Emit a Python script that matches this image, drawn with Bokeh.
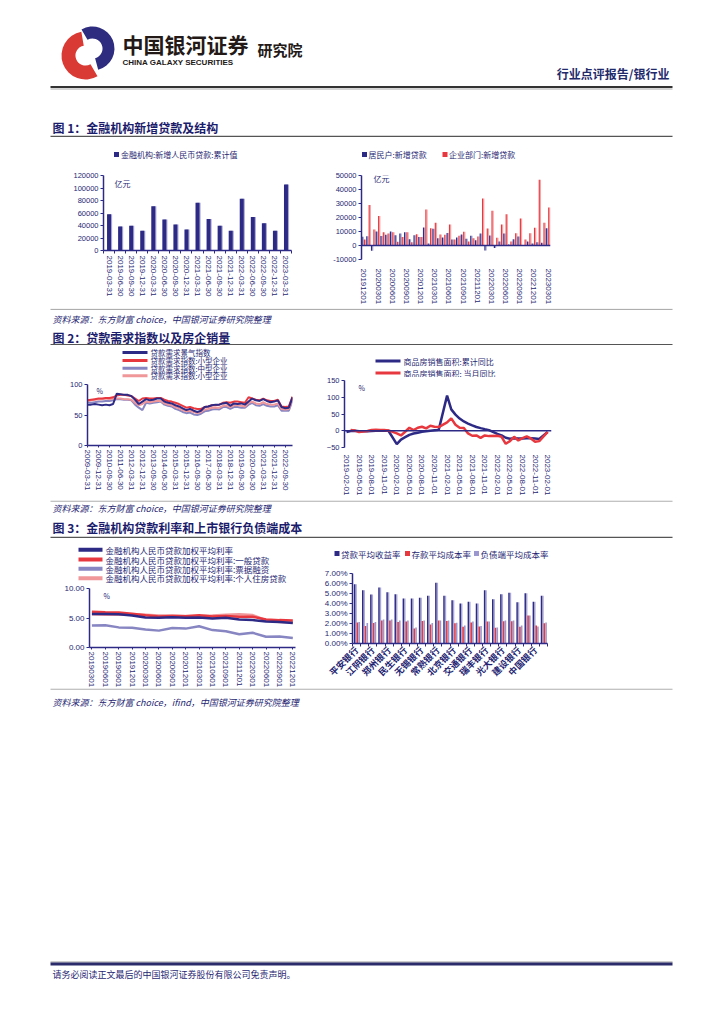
import math
from bokeh.plotting import figure
from bokeh.layouts import column, row
from bokeh.models import (Range1d, Span, FixedTicker, Label, NumeralTickFormatter, PrintfTickFormatter)
from bokeh.core.properties import value
from bokeh.embed import file_html
from bokeh.resources import INLINE

# ---------------- data ----------------
# Fig 1 left: new RMB loans (100m yuan)
loan_q_labels = ["2019-03-31", "2019-06-30", "2019-09-30", "2019-12-31", "2020-03-31", "2020-06-30",
                 "2020-09-30", "2020-12-31", "2021-03-31", "2021-06-30", "2021-09-30", "2021-12-31",
                 "2022-03-31", "2022-06-30", "2022-09-30", "2022-12-31", "2023-03-31"]
loan_q_values = [58000, 38500, 39500, 31500, 71000, 49500, 41500, 33500, 76500, 50500, 39500, 31500,
                 83000, 53500, 43500, 31500, 105500]

# Fig 1 right: monthly new loans 2019-12 .. 2023-03
month_tick_labels = ["20191201", "20200301", "20200601", "20200901", "20201201", "20210301", "20210601",
                     "20210901", "20211201", "20220301", "20220601", "20220901", "20221201", "20230301"]
household_loans = [6200, 6600, -3800, 10000, 6700, 7600, 10000, 7400, 8600, 9500, 4500, 7400, 6000, 12900,
                   1400, 11900, 5200, 5700, 9000, 4300, 5700, 7900, 4800, 6900, 3800, 8600, -3600, 7100,
                   -1700, 2900, 8600, 700, 4500, 6400, -200, 2900, 1400, 2400, 1900, 12400]
enterprise_loans = [4300, 29000, 11400, 21000, 9500, 8600, 9500, 2600, 6000, 9500, 2400, 8100, 6000, 25700,
                    12400, 16200, 7900, 7600, 15000, 4300, 6900, 9800, 2900, 5200, 6400, 33600, 12100, 24800,
                    5500, 15000, 22400, 2900, 8800, 19300, 4300, 8800, 12600, 46900, 16200, 27100]

# Fig 2 left: loan demand indices, quarterly 2009Q1 .. 2023Q1
demand_tick_labels = ["2009-03-31", "2009-12-31", "2010-09-30", "2011-06-30", "2012-03-31", "2012-12-31",
                      "2013-09-30", "2014-06-30", "2015-03-31", "2015-12-31", "2016-09-30", "2017-06-30",
                      "2018-03-31", "2018-12-31", "2019-09-30", "2020-06-30", "2021-03-31", "2021-12-31",
                      "2022-09-30"]
demand_total = [67, 67, 68, 67, 66, 67, 66, 68, 85, 84, 83, 83, 81, 75, 68, 72, 76, 74, 75, 77,
                77, 72, 70, 69, 66, 64, 61, 58, 60, 57, 55, 57, 63, 64, 66, 67, 67, 69, 70, 65,
                69, 68, 69, 67, 72, 77, 74, 73, 76, 73, 71, 72, 74, 63, 61, 62, 79]
demand_small = [74, 75, 76, 77, 77, 78, 78, 79, 82, 83, 83, 82, 81, 77, 73, 77, 78, 77, 77, 78,
                78, 75, 73, 72, 70, 68, 65, 62, 63, 61, 60, 60, 63, 64, 66, 66, 67, 70, 71, 70,
                72, 72, 71, 70, 79, 77, 75, 74, 77, 74, 73, 73, 75, 64, 63, 64, 80]
demand_medium = [71, 70, 71, 72, 72, 73, 73, 74, 76, 76, 75, 75, 74, 67, 62, 58, 70, 69, 70, 71,
                 72, 67, 65, 64, 60, 58, 55, 53, 54, 51, 50, 52, 56, 57, 59, 60, 59, 63, 63, 60,
                 63, 63, 62, 62, 67, 70, 66, 65, 68, 65, 64, 64, 66, 57, 57, 57, 74]
demand_small2 = [73, 74, 75, 76, 76, 77, 76, 77, 77, 77, 76, 76, 75, 70, 66, 68, 72, 71, 72, 73,
                 73, 69, 67, 66, 63, 61, 58, 56, 57, 55, 53, 55, 59, 60, 62, 62, 62, 65, 66, 63,
                 66, 66, 65, 64, 70, 72, 69, 68, 71, 68, 67, 67, 69, 60, 59, 60, 76]

# Fig 2 right: residential sales area YoY, monthly 2019-02 .. 2023-02 (None = no data)
sales_tick_labels = ["2019-02-01", "2019-05-01", "2019-08-01", "2019-11-01", "2020-02-01", "2020-05-01",
                     "2020-08-01", "2020-11-01", "2021-02-01", "2021-05-01", "2021-08-01", "2021-11-01",
                     "2022-02-01", "2022-05-01", "2022-08-01", "2022-11-01", "2023-02-01"]
sales_cum_yoy = [-3.6, -0.9, -0.3, -1.6, -1.8, -1.3, -0.6, -0.1, 0.1, 0.2, -0.1,
                 None, -39.9, -26.3, -19.3, -12.3, -8.4, -5.8, -3.3, -1.8, 0.0, 1.3, 2.6,
                 None, 104.9, 63.8, 48.1, 36.3, 27.7, 21.5, 15.9, 11.3, 7.9, 4.8, 1.9,
                 None, -9.6, -13.8, -20.9, -23.6, -22.2, -23.1, -23.0, -22.2, -22.3, -23.3, -24.3,
                 None, -3.6]
sales_month_yoy = [None, 2.0, 0.5, -4.0, -2.0, -1.0, 2.0, 3.0, 2.0, 2.0, 1.0,
                   None, -8.0, -14.0, -3.0, 9.0, 2.0, 9.0, 12.0, 7.0, 15.0, 12.0, 11.0,
                   None, 25.0, 37.0, 18.0, 9.0, 8.0, -8.0, -15.0, -14.0, -21.0, -14.0, -16.0,
                   None, -15.0, -18.0, -39.0, -31.0, -18.0, -29.0, -22.0, -17.0, -23.0, -33.0, -31.0,
                   None, -3.6]

# Fig 3 left: weighted average lending rates (%), quarterly
rate_tick_labels = ["20190301", "20190601", "20190901", "20191201", "20200301", "20200601", "20200901",
                    "20201201", "20210301", "20210601", "20210901", "20211201", "20220301", "20220601",
                    "20220901", "20221201"]
rate_all = [5.69, 5.66, 5.62, 5.44, 5.08, 5.06, 5.12, 5.03, 5.10, 4.93, 5.05, 4.76, 4.65, 4.41, 4.34, 4.14]
rate_general = [6.06, 5.97, 5.94, 5.74, 5.48, 5.26, 5.32, 5.31, 5.45, 5.25, 5.35, 5.20, 5.22, 4.76, 4.64, 4.57]
rate_bill = [3.74, 3.76, 3.41, 3.34, 3.05, 2.86, 3.29, 3.20, 3.61, 2.95, 2.75, 2.23, 2.49, 1.83, 1.87, 1.60]
rate_mortgage = [5.64, 5.55, 5.55, 5.62, 5.53, 5.42, 5.41, 5.34, 5.34, 5.42, 5.53, 5.63, 5.49, 4.62, 4.34, 4.26]

# Fig 3 right: listed banks (labels shown on every other bar group)
banks = ["平安银行", "张家港行", "江阴银行", "苏农银行", "郑州银行", "青岛银行", "民生银行", "渝农商行",
         "无锡银行", "紫金银行", "常熟银行", "上海银行", "北京银行", "南京银行", "交通银行", "兴业银行",
         "瑞丰银行", "沪农商行", "光大银行", "农业银行", "建设银行", "邮储银行", "中国银行", "工商银行"]
loan_yield = [5.93, 5.33, 4.90, 5.60, 5.13, 4.93, 4.50, 4.50, 4.57, 4.77, 6.07, 4.77,
              4.33, 4.00, 4.17, 4.00, 5.33, 4.43, 4.93, 5.07, 4.13, 5.03, 4.17, 4.77]
deposit_cost = [2.10, 1.75, 2.05, 2.30, 2.30, 2.15, 2.20, 1.50, 2.25, 1.90, 2.30, 2.25,
                2.03, 1.67, 2.10, 1.70, 2.20, 1.57, 2.23, 2.23, 1.67, 2.80, 1.80, 2.03]
liability_cost = [2.15, 2.05, 2.15, 2.40, 2.40, 2.30, 2.30, 1.60, 2.30, 2.05, 2.30, 2.30,
                  2.08, 1.80, 2.20, 1.75, 2.20, 1.60, 2.30, 2.30, 1.80, 2.80, 1.70, 2.10]

# ---------------- style ----------------
CJK = "Noto Sans CJK SC"
NUMF = "Liberation Sans"
NAVY = "#2D2A86"
NAVY_SH = "#A9A7D3"
RED = "#E8383F"
RED_SH = "#F4A6A8"
LAV = "#9A98CF"
GRAYLAV = "#8785C2"
PINK = "#F0979A"
TXT = "#1F1F73"
TITLE = "#1C1C6C"
PAGE_W = 716
BIG_BOTTOM = 80


def band(x0, y0, w, h):
    p = figure(width=w, height=h, x_range=Range1d(x0, x0 + w), y_range=Range1d(y0 + h, y0),
               x_axis_location=None, y_axis_location=None, min_border=0,
               output_backend="svg", toolbar_location=None)
    p.grid.visible = False
    p.outline_line_color = None
    return p


def put_text(p, x, y, s, size, color=TXT, style="normal", font=CJK, align="left"):
    p.text(x=[x], y=[y], text=[s], text_font=value(font), text_font_size=f"{size}px",
           text_font_style=style, text_color=color, text_align=align, text_baseline="middle")


def hrule(p, y, color="#666666", w=1.0, x0=50, x1=672):
    p.segment(x0=[x0], y0=[y], x1=[x1], y1=[y], line_color=color, line_width=w)


def leg_square(b, cx, cy, color, label, tx, size=8):
    b.rect(x=[cx], y=[cy], width=5, height=5, fill_color=color, line_color=None)
    put_text(b, tx, cy, label, size)


def leg_line(b, x0, x1, y, color, w, label, tx, size=8):
    b.segment(x0=[x0], y0=[y], x1=[x1], y1=[y], line_color=color, line_width=w)
    put_text(b, tx, y, label, size)


def chart(w, h, xr, yr, bl, br, bt, bb):
    """Chart whose plot frame sits exactly bl/br/bt/bb px inside a w x h box."""
    fw, fh = w - bl - br, h - bt - bb
    p = figure(frame_width=fw, frame_height=fh, x_range=xr, y_range=yr,
               output_backend="svg", toolbar_location=None,
               min_border_left=bl, min_border_right=br, min_border_top=bt, min_border_bottom=BIG_BOTTOM)
    p.margin = (0, 0, bb - BIG_BOTTOM, 0)
    p.border_fill_color = None
    p.grid.visible = False
    p.outline_line_color = None
    for ax in p.axis:
        ax.axis_line_color = NAVY
        ax.axis_line_width = 1.5
        ax.major_tick_line_color = NAVY
        ax.major_tick_in = 0
        ax.major_tick_out = 3
        ax.minor_tick_line_color = None
        ax.major_label_text_font = NUMF
        ax.major_label_text_font_size = "8px"
        ax.major_label_text_color = TXT
        ax.major_label_standoff = 2
    p.yaxis.major_label_text_font_size = "7.5px"
    return p


def boundary_ticks(p, n):
    p.xaxis.ticker = FixedTicker(ticks=p.xaxis.ticker.ticks, minor_ticks=[i - 0.5 for i in range(n + 1)])
    p.xaxis.major_tick_line_color = None
    p.xaxis.minor_tick_line_color = NAVY
    p.xaxis.minor_tick_out = 3
    p.xaxis.minor_tick_in = 0


def unit_label(p, text, x, y, size="8px"):
    p.add_layout(Label(x=x, y=y, x_units="screen", y_units="screen", text=text, text_font=CJK,
                       text_font_size=size, text_color=TXT, text_baseline="middle"))


# ---------------- header band (y 0..137) ----------------
s0 = band(0, 0, PAGE_W, 137)
s0.annular_wedge(x=[85], y=[55], inner_radius=10, outer_radius=24, start_angle=math.radians(100),
                 end_angle=math.radians(300), fill_color="#D93A33", line_color=None)
s0.annular_wedge(x=[92], y=[48], inner_radius=10, outer_radius=22, start_angle=math.radians(-75),
                 end_angle=math.radians(120), fill_color="#2E2C7E", line_color=None)
put_text(s0, 122, 43, "中国银河证券", 21, color="#231916", style="bold")
put_text(s0, 122, 62, "CHINA GALAXY SECURITIES", 8, color="#231916", style="bold", font=NUMF)
put_text(s0, 257, 49, "研究院", 15, color="#231916", style="bold")
put_text(s0, 669, 73, "行业点评报告/银行业", 12, color="#1F2A6B", style="bold", align="right")
hrule(s0, 86.5, color="#333333", w=2)
hrule(s0, 88.5, color="#AAAAAA", w=1)
put_text(s0, 52, 127, "图 1：金融机构新增贷款及结构", 12, color=TITLE, style="bold")
hrule(s0, 136, color="#555555", w=1.5)

# ---------------- Fig 1 left ----------------
b1l = band(0, 137, 310, 29)
leg_square(b1l, 116, 154, NAVY, "金融机构:新增人民币贷款:累计值", 120.5)
n1 = len(loan_q_labels)
x1 = list(range(n1))
p1 = chart(310, 142, Range1d(-0.5, n1 - 0.5), Range1d(0, 120000), 103, 19, 9, 58)
p1.vbar(x=[i + 0.1 for i in x1], top=loan_q_values, width=0.36, fill_color=NAVY_SH, line_color=None)
p1.vbar(x=x1, top=loan_q_values, width=0.36, fill_color=NAVY, line_color=None)
p1.yaxis.ticker = FixedTicker(ticks=[0, 20000, 40000, 60000, 80000, 100000, 120000])
p1.yaxis.formatter = NumeralTickFormatter(format="0")
p1.xaxis.ticker = FixedTicker(ticks=x1)
p1.xaxis.major_label_overrides = {i: s for i, s in zip(x1, loan_q_labels)}
p1.xaxis.major_label_orientation = "vertical"
boundary_ticks(p1, n1)
unit_label(p1, "亿元", 11, 67)

# ---------------- Fig 1 right ----------------
b1r = band(310, 137, 406, 29)
leg_square(b1r, 364, 154, NAVY, "居民户:新增贷款", 368)
leg_square(b1r, 444.5, 154, RED, "企业部门:新增贷款", 448.5)
n2 = len(household_loans)
x2 = list(range(n2))
p2 = chart(406, 142, Range1d(-0.5, n2 - 0.5), Range1d(-10000, 50000), 51, 166, 9, 49)
p2.vbar(x=[i - 0.125 for i in x2], top=household_loans, width=0.25, fill_color=NAVY_SH, line_color=None)
p2.vbar(x=[i + 0.375 for i in x2], top=enterprise_loans, width=0.25, fill_color=RED_SH, line_color=None)
p2.vbar(x=[i - 0.375 for i in x2], top=household_loans, width=0.25, fill_color=NAVY, line_color=None)
p2.vbar(x=[i + 0.125 for i in x2], top=enterprise_loans, width=0.25, fill_color=RED, line_color=None)
p2.add_layout(Span(location=0, dimension="width", line_color=NAVY, line_width=1.5))
p2.yaxis.ticker = FixedTicker(ticks=[-10000, 0, 10000, 20000, 30000, 40000, 50000])
p2.yaxis.formatter = NumeralTickFormatter(format="0")
tick2 = list(range(0, n2, 3))
p2.xaxis.ticker = FixedTicker(ticks=tick2)
p2.xaxis.major_label_overrides = {i: s for i, s in zip(tick2, month_tick_labels)}
p2.xaxis.major_label_orientation = "vertical"
p2.xaxis.axis_line_color = None
p2.xaxis.major_tick_line_color = None
p2.xaxis.major_label_standoff = 6
unit_label(p2, "亿元", 12, 81)

# ---------------- band: source 1 + title 2 (y 308..345) ----------------
s2 = band(0, 308, PAGE_W, 37)
hrule(s2, 308.8, color="#9A9A9A", w=1)
put_text(s2, 52, 318.5, "资料来源：东方财富 choice，中国银河证券研究院整理", 9, color=TXT, style="italic")
put_text(s2, 52, 337, "图 2：贷款需求指数以及房企销量", 12, color=TITLE, style="bold")
hrule(s2, 344.3, color="#555555", w=1.5)

# ---------------- Fig 2 left ----------------
b2l = band(0, 345, 310, 35)
leg_line(b2l, 122, 147, 352, NAVY, 3, "贷款需求景气指数", 150, size=7.5)
leg_line(b2l, 122, 147, 360, RED, 3, "贷款需求指数:小型企业", 150, size=7.5)
leg_line(b2l, 122, 147, 367.7, GRAYLAV, 3, "贷款需求指数:中型企业", 150, size=7.5)
leg_line(b2l, 122, 147, 375.3, PINK, 3, "贷款需求指数:小型企业", 150, size=7.5)
n3 = len(demand_total)
x3 = list(range(n3))
p3 = chart(310, 120, Range1d(0, n3 - 1), Range1d(0, 100), 87, 18, 4, 55)
p3.line(x3, demand_medium, line_color=GRAYLAV, line_width=2)
p3.line(x3, demand_small2, line_color=PINK, line_width=2)
p3.line(x3, demand_small, line_color=RED, line_width=2)
p3.line(x3, demand_total, line_color=NAVY, line_width=2)
p3.yaxis.ticker = FixedTicker(ticks=[0, 50, 100])
tick3 = list(range(0, n3, 3))[:len(demand_tick_labels)]
p3.xaxis.ticker = FixedTicker(ticks=tick3)
p3.xaxis.major_label_overrides = {i: s for i, s in zip(tick3, demand_tick_labels)}
p3.xaxis.major_label_orientation = "vertical"
p3.xaxis.major_tick_out = 2
unit_label(p3, "%", 9, 55, size="7px")

# ---------------- Fig 2 right ----------------
b2r = band(310, 345, 406, 32)
leg_line(b2r, 375, 400, 360.5, NAVY, 3, "商品房销售面积:累计同比", 403)
leg_line(b2r, 375, 400, 372.5, RED, 3, "商品房销售面积: 当月同比", 403)
n4 = len(sales_cum_yoy)
p4 = chart(406, 123, Range1d(-0.48, n4 - 0.08), Range1d(-50, 150), 34, 165, 3, 53)
cx = [i for i, v in enumerate(sales_cum_yoy) if v is not None]
cy = [v for v in sales_cum_yoy if v is not None]
mx = [i for i, v in enumerate(sales_month_yoy) if v is not None]
my = [v for v in sales_month_yoy if v is not None]
p4.add_layout(Span(location=0, dimension="width", line_color=NAVY, line_width=1.5))
p4.line(cx, cy, line_color=NAVY, line_width=2.5)
p4.line(mx, my, line_color=RED, line_width=2.5)
p4.yaxis.ticker = FixedTicker(ticks=[-50, 0, 50, 100, 150])
tick4 = list(range(0, n4, 3))
p4.xaxis.ticker = FixedTicker(ticks=tick4)
p4.xaxis.major_label_overrides = {i: s for i, s in zip(tick4, sales_tick_labels)}
p4.xaxis.major_label_orientation = "vertical"
p4.xaxis.axis_line_color = None
p4.xaxis.major_tick_line_color = None
p4.xaxis.major_label_standoff = 4
unit_label(p4, "%", 14, 60, size="7px")

# ---------------- band: source 2 + title 3 (y 500..538) ----------------
s4 = band(0, 500, PAGE_W, 38)
hrule(s4, 500.6, color="#9A9A9A", w=1)
put_text(s4, 52, 507.5, "资料来源：东方财富 choice，中国银河证券研究院整理", 9, color=TXT, style="italic")
put_text(s4, 52, 527, "图 3：金融机构贷款利率和上市银行负债端成本", 12, color=TITLE, style="bold")
hrule(s4, 537, color="#555555", w=1.5)

# ---------------- Fig 3 left ----------------
b3l = band(0, 538, 310, 45)
leg_line(b3l, 78, 102, 549.3, NAVY, 4, "金融机构人民币贷款加权平均利率", 105, size=8.5)
leg_line(b3l, 78, 102, 559, RED, 4, "金融机构人民币贷款加权平均利率:一般贷款", 105, size=8.5)
leg_line(b3l, 78, 102, 568.3, GRAYLAV, 4, "金融机构人民币贷款加权平均利率:票据融资", 105, size=8.5)
leg_line(b3l, 78, 102, 577.7, PINK, 4, "金融机构人民币贷款加权平均利率:个人住房贷款", 105, size=8.5)
n5 = len(rate_all)
x5 = list(range(n5))
p5 = chart(310, 105, Range1d(-0.18, n5 - 0.8), Range1d(0, 10), 89, 15, 5, 41)
p5.line(x5, rate_bill, line_color=GRAYLAV, line_width=2.5)
p5.line(x5, rate_mortgage, line_color=PINK, line_width=2.5)
p5.line(x5, rate_general, line_color=RED, line_width=2.5)
p5.line(x5, rate_all, line_color=NAVY, line_width=2.5)
p5.yaxis.ticker = FixedTicker(ticks=[0, 5, 10])
p5.yaxis.formatter = NumeralTickFormatter(format="0.00")
p5.yaxis.major_label_text_font_size = "8px"
p5.xaxis.ticker = FixedTicker(ticks=x5)
p5.xaxis.major_label_overrides = {i: s for i, s in zip(x5, rate_tick_labels)}
p5.xaxis.major_label_orientation = "vertical"
p5.xaxis.major_tick_out = 2
unit_label(p5, "%", 14, 52, size="7px")

# ---------------- Fig 3 right ----------------
b3r = band(310, 538, 406, 28)
leg_square(b3r, 336.5, 553, NAVY, "贷款平均收益率", 340.5, size=8.5)
leg_square(b3r, 407, 553, RED, "存款平均成本率", 411, size=8.5)
leg_square(b3r, 476, 553, LAV, "负债端平均成本率", 480, size=8.5)
n6 = len(banks)
x6 = list(range(n6))
p6 = chart(406, 122, Range1d(-0.5, n6 - 0.5), Range1d(0, 7), 42, 169, 7, 45)
p6.vbar(x=[i - 0.06 for i in x6], top=loan_yield, width=0.18, fill_color=NAVY_SH, line_color=None)
p6.vbar(x=[i - 0.24 for i in x6], top=loan_yield, width=0.18, fill_color=NAVY, line_color=None)
p6.vbar(x=[i + 0.11 for i in x6], top=deposit_cost, width=0.2, fill_color=RED, line_color=None)
p6.vbar(x=[i + 0.32 for i in x6], top=liability_cost, width=0.2, fill_color=LAV, line_color=None)
p6.yaxis.ticker = FixedTicker(ticks=[0, 1, 2, 3, 4, 5, 6, 7])
p6.yaxis.formatter = PrintfTickFormatter(format="%.2f%%")
p6.yaxis.major_label_text_font_size = "8px"
tick6 = list(range(0, n6, 2))
p6.xaxis.ticker = FixedTicker(ticks=tick6)
p6.xaxis.major_label_overrides = {i: banks[i] for i in tick6}
p6.xaxis.major_label_orientation = math.pi / 4
p6.xaxis.major_label_text_font = CJK
p6.xaxis.major_label_text_font_size = "9px"
p6.xaxis.major_label_text_font_style = "bold"
boundary_ticks(p6, n6)

# ---------------- footer band (y 688..1000) ----------------
s6 = band(0, 688, PAGE_W, 312)
hrule(s6, 688.6, color="#9A9A9A", w=1)
put_text(s6, 52, 701.5, "资料来源：东方财富 choice，ifind，中国银河证券研究院整理", 9, color=TXT, style="italic")
hrule(s6, 961.5, color="#9A9A9A", w=1)
hrule(s6, 963.5, color="#2B2A6B", w=3)
put_text(s6, 52, 974, "请务必阅读正文最后的中国银河证券股份有限公司免责声明。", 9, color=TXT)

layout = column(
    s0,
    row(column(row(b1l), p1), column(row(b1r), p2)),
    s2,
    row(column(row(b2l), p3), column(row(b2r), p4)),
    s4,
    row(column(row(b3l), p5), column(row(b3r), p6)),
    s6,
)
open("out.html", "w").write(file_html(layout, INLINE))
